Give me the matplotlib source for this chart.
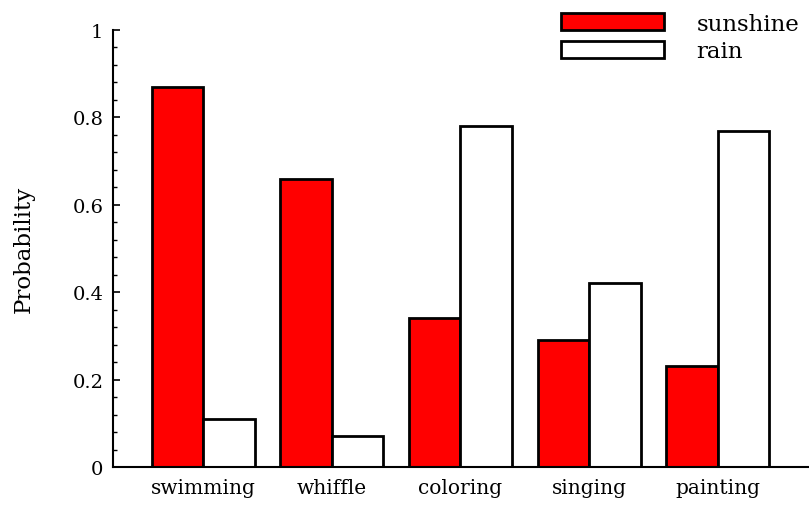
import matplotlib.pyplot as plt
import numpy as np
from matplotlib.ticker import MultipleLocator, FormatStrFormatter

activities = ['swimming', 'whiffle', 'coloring', 'singing', 'painting']
sunshine = [0.87, 0.66, 0.34, 0.29, 0.23]
rain = [0.11, 0.07, 0.78, 0.42, 0.77]

plt.rcParams['font.family'] = 'DejaVu Serif'

fig = plt.figure(figsize=(8.09, 5.06), dpi=100)
ax = fig.add_axes([0.1397, 0.0751, 0.859, 0.8636])

x = np.arange(len(activities))
w = 0.4
ax.bar(x - w / 2, sunshine, w, color='#ff0000', edgecolor='black',
       linewidth=2, label='sunshine')
ax.bar(x + w / 2, rain, w, color='white', edgecolor='black',
       linewidth=2, label='rain')

ax.set_xlim(-0.7, 4.7)
ax.set_ylim(0, 1)
ax.set_xticks(x)
ax.set_xticklabels(activities, fontsize=14.5)
ax.tick_params(axis='x', length=0, pad=8)

ax.yaxis.set_major_locator(MultipleLocator(0.2))
ax.yaxis.set_minor_locator(MultipleLocator(0.04))
ax.yaxis.set_major_formatter(FormatStrFormatter('%g'))
ax.tick_params(axis='y', which='major', direction='in', length=5,
               width=1.2, labelsize=14, pad=7)
ax.tick_params(axis='y', which='minor', direction='in', length=3, width=1)
ax.set_ylabel('Probability', fontsize=16.5, labelpad=27)

for side in ['top', 'right']:
    ax.spines[side].set_visible(False)
for side in ['left', 'bottom']:
    ax.spines[side].set_linewidth(1.5)

ax.legend(loc='upper right', bbox_to_anchor=(1.017, 1.087), frameon=False,
          fontsize=16.5, handlelength=4.5, handleheight=0.78,
          handletextpad=1.4, labelspacing=0.25)

fig.savefig('out.png', dpi=100)
